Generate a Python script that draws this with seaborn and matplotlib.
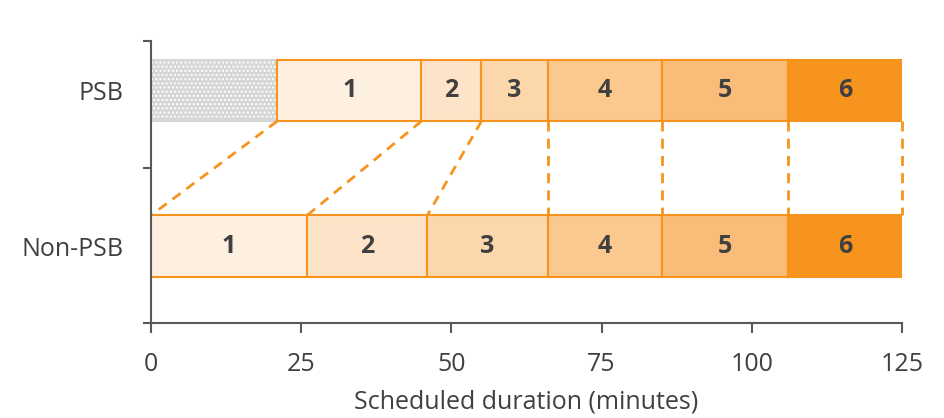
import matplotlib
matplotlib.use("Agg")
import matplotlib.pyplot as plt
import seaborn as sns
import pandas as pd

# ---- data ----
groups = ["PSB", "Non-PSB"]
segments = ["1", "2", "3", "4", "5", "6"]
psb_offset = 21          # grey (hatched) lead-in for PSB
psb_durations = [24, 10, 11, 19, 21, 19]
nonpsb_durations = [26, 20, 20, 19, 21, 19]
x_ticks = [0, 25, 50, 75, 100, 125]

seg_colors = ["#FDF0E1", "#FDE4C8", "#FCD7AC", "#FBC88D", "#FABD79", "#F7941E"]
edge = "#F7941E"

sns.set_theme(style="white")
plt.rcParams['font.family'] = ['Open Sans', 'DejaVu Sans']

fig = plt.figure(figsize=(9.44, 4.18), dpi=100)
ax = fig.add_axes([151/944, 1-323/418, (902-151)/944, (323-41)/418])

ypos = {"PSB": 1.649, "Non-PSB": 0.546}
h = 0.436

rows = []
start = psb_offset
for s, d in zip(segments, psb_durations):
    rows.append(dict(group="PSB", seg=s, left=start, width=d)); start += d
start = 0
for s, d in zip(segments, nonpsb_durations):
    rows.append(dict(group="Non-PSB", seg=s, left=start, width=d)); start += d
df = pd.DataFrame(rows)

# grey hatched lead-in
ax.barh(ypos["PSB"], psb_offset, left=0, height=h, color="#D6D6D6",
        edgecolor="white", hatch="....", linewidth=0)
ax.barh(ypos["PSB"], psb_offset, left=0, height=h, fill=False,
        edgecolor="#D6D6D6", linewidth=1.5)

for _, r in df.iterrows():
    i = segments.index(r.seg)
    y = ypos[r.group]
    ax.barh(y, r.width, left=r.left, height=h, color=seg_colors[i],
            edgecolor=edge, linewidth=1.5)
    ax.text(r.left + r.width/2, y, r.seg, ha="center", va="center",
            fontsize=18, fontweight="bold", color="#404040")

# connecting dashed lines
psb_bounds = [psb_offset]
for d in psb_durations:
    psb_bounds.append(psb_bounds[-1] + d)
non_bounds = [0]
for d in nonpsb_durations:
    non_bounds.append(non_bounds[-1] + d)
for a, b in zip(psb_bounds, non_bounds):
    ax.plot([a, b], [ypos["PSB"] - h/2, ypos["Non-PSB"] + h/2],
            color=edge, linewidth=2, dashes=(3.6, 2.6), solid_capstyle="butt",
            clip_on=False, zorder=1)

ax.set_xlim(0, 125)
ax.set_ylim(0, 2)
ax.set_xticks(x_ticks)
ax.set_xticklabels([str(v) for v in x_ticks], fontsize=18, color="#404040")
ax.set_yticks([0, 1.1, 2])
ax.set_yticklabels([])
ax.set_yticks([ypos[g] for g in groups], minor=True)
ax.set_yticklabels(groups, minor=True, fontsize=18, color="#404040")
ax.tick_params(axis="y", which="minor", length=0, pad=20)
ax.tick_params(axis="y", which="major", length=6, width=1.5, color="#595959", direction="out", left=True)
ax.tick_params(axis="x", length=7, width=1.5, color="#595959", direction="out", bottom=True, pad=14)
ax.set_xlabel("Scheduled duration (minutes)", fontsize=18, color="#404040", labelpad=9)

for s in ["top", "right"]:
    ax.spines[s].set_visible(False)
for s in ["left", "bottom"]:
    ax.spines[s].set_color("#595959")
    ax.spines[s].set_linewidth(1.5)

fig.savefig("out.png", dpi=100)
